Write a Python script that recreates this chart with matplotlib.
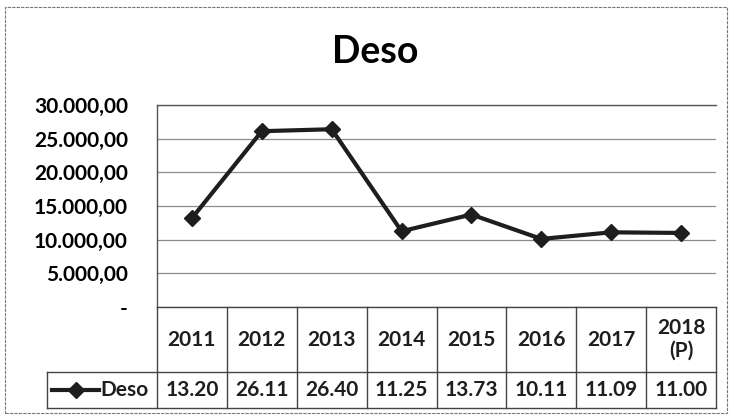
import matplotlib.pyplot as plt
from matplotlib.patches import Rectangle
from matplotlib.lines import Line2D

plt.rcParams['font.family'] = ['Lato', 'DejaVu Sans']

# Data
years = ['2011', '2012', '2013', '2014', '2015', '2016', '2017', '2018\n(P)']
deso = [13200, 26110, 26400, 11250, 13730, 10110, 11090, 11000]
yticks = [0, 5000, 10000, 15000, 20000, 25000, 30000]
series_name = 'Deso'

W, H = 729, 415
fig = plt.figure(figsize=(W / 100, H / 100), dpi=100)

def fx(px):
    return px / W

def fy(py):
    return 1 - py / H

left, right = 157, 716
top, zero = 105, 307
tbl_bottom = 408
ink = '#1e1e1e'
grid_c = '#8c8c8c'

# main plot area
ax = fig.add_axes([fx(left), fy(zero), fx(right - left), (zero - top) / H])
x = list(range(len(years)))
ax.plot(x, deso, color=ink, lw=3, marker='D', ms=8.5, mec=ink, mfc=ink, zorder=3)
ax.set_xlim(-0.5, len(years) - 0.5)
ax.set_ylim(0, 30000)
ax.set_yticks(yticks)

def fmt(v):
    if v == 0:
        return '-'
    s = f'{v:,.2f}'
    return s.replace(',', 'X').replace('.', ',').replace('X', '.')

ax.set_yticklabels([fmt(v) for v in yticks], fontsize=15, fontweight='bold')
ax.tick_params(axis='y', length=0, pad=21)
ax.set_xticks([])
ax.grid(axis='y', color=grid_c, lw=0.9)
for s in ['right', 'bottom']:
    ax.spines[s].set_visible(False)
for s in ['left', 'top']:
    ax.spines[s].set_color('#555555')
    ax.spines[s].set_linewidth(1.0)

# data table
tax = fig.add_axes([fx(left), fy(tbl_bottom), fx(right - left), (tbl_bottom - zero) / H])
tax.set_xlim(-0.5, len(years) - 0.5)
tax.set_ylim(0, 1)
tax.axis('off')
row_split = (tbl_bottom - 372) / (tbl_bottom - zero)
col_w = (right - left) / len(years)
key_left = -0.5 - (left - 47) / col_w
lc = '#444444'

tax.plot([-0.5, len(years) - 0.5], [1, 1], color=lc, lw=1.0, clip_on=False)
tax.plot([key_left, len(years) - 0.5], [row_split, row_split], color=lc, lw=1.0, clip_on=False)
tax.plot([key_left, len(years) - 0.5], [0, 0], color=lc, lw=1.0, clip_on=False)
tax.plot([key_left, key_left], [0, row_split], color=lc, lw=1.0, clip_on=False)
for i in range(len(years) + 1):
    tax.plot([i - 0.5, i - 0.5], [0, 1], color=lc, lw=1.0, clip_on=False)

for i, (yr, v) in enumerate(zip(years, deso)):
    tax.text(i, (1 + row_split) / 2, yr, ha='center', va='center',
             fontsize=15, fontweight='bold', color=ink, linespacing=1.15)
    tax.text(i, row_split / 2, f'{v / 1000:.2f}', ha='center', va='center',
             fontsize=15, fontweight='bold', color=ink)

# legend key inside table
kx0 = key_left + 5 / col_w
kx1 = key_left + 52 / col_w
tax.add_line(Line2D([kx0, kx1], [row_split / 2] * 2, color=ink, lw=3, clip_on=False))
tax.plot([(kx0 + kx1) / 2], [row_split / 2], marker='D', ms=8.5, color=ink, clip_on=False)
tax.text(kx1 + 1 / col_w, row_split / 2, series_name, ha='left', va='center',
         fontsize=15, fontweight='bold', color=ink)

# title
fig.text(fx(375), fy(52), 'Deso', ha='center', va='center', fontsize=27, fontweight='bold', color='black')

# outer chart border
fig.patches.append(Rectangle((fx(5), fy(413)), fx(722), (413 - 7) / H, transform=fig.transFigure,
                             fill=False, ec='#777777', lw=0.8, ls=(0, (3, 1))))

fig.savefig('out.png', dpi=100)
